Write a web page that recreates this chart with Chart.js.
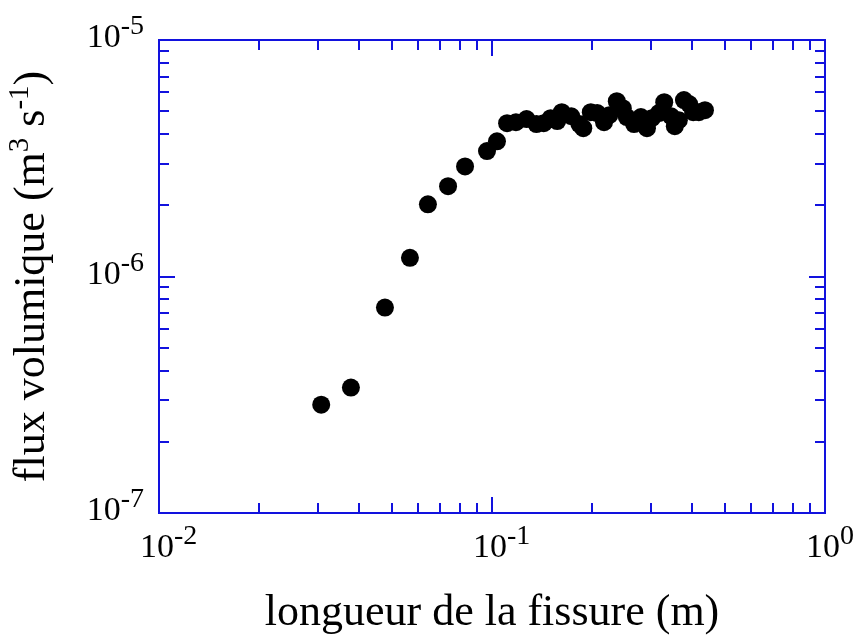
<!DOCTYPE html>
<html>
<head>
<meta charset="utf-8">
<script src="https://cdn.jsdelivr.net/npm/chart.js@4/dist/chart.umd.min.js"></script>
<style>
  html, body { margin: 0; padding: 0; background: #fff; }
  #wrap { width: 858px; height: 639px; }
</style>
</head>
<body>
<div id="wrap"><canvas id="fluxChart" width="858" height="639"></canvas></div>
<script>
// crack length (m) and volume flux (m3/s)
const crackLength = [
  0.0307, 0.0377, 0.0477, 0.0567, 0.0642, 0.0738, 0.083, 0.0966, 0.1035,
  0.111, 0.118, 0.127, 0.136, 0.143, 0.150, 0.157, 0.162, 0.173, 0.183,
  0.188, 0.198, 0.207, 0.217, 0.225, 0.237, 0.247, 0.254, 0.267, 0.280,
  0.292, 0.302, 0.317, 0.329, 0.345, 0.354, 0.364, 0.377, 0.391, 0.402,
  0.418, 0.436
];
const volumeFlux = [
  2.87e-7, 3.39e-7, 7.39e-7, 1.20e-6, 2.02e-6, 2.41e-6, 2.92e-6, 3.39e-6, 3.73e-6,
  4.45e-6, 4.49e-6, 4.63e-6, 4.41e-6, 4.45e-6, 4.67e-6, 4.54e-6, 4.95e-6, 4.76e-6, 4.41e-6,
  4.24e-6, 4.95e-6, 4.91e-6, 4.49e-6, 4.81e-6, 5.51e-6, 5.15e-6, 4.72e-6, 4.41e-6, 4.72e-6,
  4.24e-6, 4.67e-6, 4.91e-6, 5.46e-6, 4.76e-6, 4.32e-6, 4.58e-6, 5.57e-6, 5.36e-6, 4.95e-6,
  4.95e-6, 5.05e-6
];
// decades shown on each axis (tick labels are 10^exp)
const xDecades = [-2, -1, 0];
const yDecades = [-7, -6, -5];
const xTitle = "longueur de la fissure (m)";

const axisBlue = "rgb(18,18,222)";
const serif = "'Liberation Serif', 'Times New Roman', serif";

// 10 with a raised exponent; anchor is "center" (x = middle of "10") or "right"
function drawPower(ctx, exp, x, baseY, anchor) {
  ctx.font = `34px ${serif}`;
  const wBase = ctx.measureText("10").width;
  ctx.font = `28px ${serif}`;
  const wExp = ctx.measureText(String(exp)).width;
  let left = anchor === "right" ? x - wBase - wExp : x - wBase / 2;
  ctx.textAlign = "left";
  ctx.textBaseline = "alphabetic";
  ctx.font = `34px ${serif}`;
  ctx.fillText("10", left, baseY);
  ctx.font = `28px ${serif}`;
  ctx.fillText(String(exp), left + wBase, baseY - 13);
}

const framePlugin = {
  id: "frame",
  beforeDatasetsDraw(chart) {
    const { ctx, chartArea, scales } = chart;
    const { left, right, top, bottom } = chartArea;
    const x = scales.x, y = scales.y;
    ctx.save();
    ctx.strokeStyle = axisBlue;
    ctx.lineWidth = 2;
    ctx.strokeRect(left, top, right - left, bottom - top);

    ctx.beginPath();
    // x ticks, inward on bottom and top
    for (let i = 0; i < xDecades.length - 1; i++) {
      for (let m = 1; m <= 9; m++) {
        const px = Math.round(x.getPixelForValue(m * Math.pow(10, xDecades[i])));
        const len = m === 1 ? 16 : 10;
        ctx.moveTo(px, bottom); ctx.lineTo(px, bottom - len);
        ctx.moveTo(px, top); ctx.lineTo(px, top + len);
      }
    }
    // y ticks, inward on left and right
    for (let i = 0; i < yDecades.length - 1; i++) {
      for (let m = 1; m <= 9; m++) {
        const py = Math.round(y.getPixelForValue(m * Math.pow(10, yDecades[i])));
        const len = m === 1 ? 16 : 10;
        ctx.moveTo(left, py); ctx.lineTo(left + len, py);
        ctx.moveTo(right, py); ctx.lineTo(right - len, py);
      }
    }
    ctx.stroke();

    // tick labels
    ctx.fillStyle = "#000";
    xDecades.forEach(e => {
      drawPower(ctx, e, x.getPixelForValue(Math.pow(10, e)) - 2, bottom + 44, "center");
    });
    yDecades.forEach(e => {
      drawPower(ctx, e, left - 15, y.getPixelForValue(Math.pow(10, e)) + 7, "right");
    });

    // x title
    ctx.font = `44px ${serif}`;
    ctx.textAlign = "center";
    ctx.fillText(xTitle, (left + right) / 2, 625);

    // y title with superscripts, rotated
    ctx.translate(44, (top + bottom) / 2);
    ctx.rotate(-Math.PI / 2);
    const parts = [
      ["flux volumique (m", 44, 0],
      ["3", 29, -16],
      [" s", 44, 0],
      ["-1", 29, -16],
      [")", 44, 0]
    ];
    let total = 0;
    parts.forEach(p => { ctx.font = `${p[1]}px ${serif}`; total += ctx.measureText(p[0]).width; });
    let cx = -total / 2;
    ctx.textAlign = "left";
    parts.forEach(p => {
      ctx.font = `${p[1]}px ${serif}`;
      ctx.fillText(p[0], cx, p[2]);
      cx += ctx.measureText(p[0]).width;
    });
    ctx.restore();
  }
};

const points = crackLength.map((v, i) => ({ x: v, y: volumeFlux[i] }));

new Chart(document.getElementById("fluxChart").getContext("2d"), {
  type: "scatter",
  data: {
    datasets: [{
      data: points,
      pointRadius: 9,
      pointHoverRadius: 9,
      backgroundColor: "#000",
      borderWidth: 0,
      showLine: false
    }]
  },
  options: {
    responsive: false,
    animation: false,
    devicePixelRatio: 1,
    layout: { padding: { top: 40, right: 33, left: 0, bottom: 0 } },
    plugins: { legend: { display: false }, tooltip: { enabled: false } },
    scales: {
      x: {
        type: "logarithmic",
        min: 0.01,
        max: 1,
        grid: { display: false },
        border: { display: false },
        ticks: { display: false },
        afterFit: s => { s.height = 126; }
      },
      y: {
        type: "logarithmic",
        min: 1e-7,
        max: 1e-5,
        grid: { display: false },
        border: { display: false },
        ticks: { display: false },
        afterFit: s => { s.width = 159; }
      }
    }
  },
  plugins: [framePlugin]
});
</script>
</body>
</html>
